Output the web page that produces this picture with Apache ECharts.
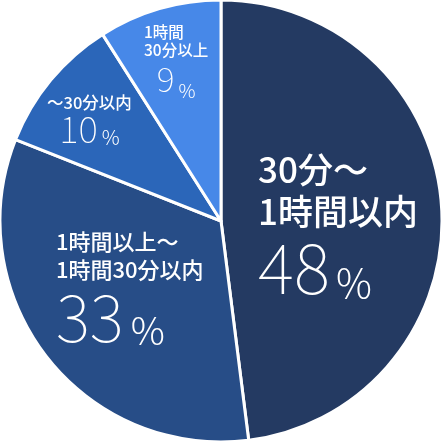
<!DOCTYPE html>
<html>
<head>
<meta charset="utf-8">
<script src="https://cdn.jsdelivr.net/npm/echarts@6/dist/echarts.min.js"></script>
<style>
html,body{margin:0;padding:0;background:#fff;}
#c{width:442px;height:442px;}
</style>
</head>
<body>
<div id="c"></div>
<script>
const categories = ['30分～\n1時間以内', '1時間以上～\n1時間30分以内', '～30分以内', '1時間\n30分以上'];
const values = [48, 33, 10, 9];
const colors = ['#243a62', '#274d87', '#2b66b9', '#4788e8'];

const labelCfg = [
  { x: 258, y: 149, nameAlign: 'left', numAlign: 'left', name: 35, nameLH: 42, num: 69, numLH: 70, pct: 40, pctLH: 50, gap: 6 },
  { x: 56, y: 228, nameAlign: 'left', numAlign: 'left', name: 22, nameLH: 28, num: 65, numLH: 66, pct: 38, pctLH: 46, gap: 7 },
  { x: 47, y: 94, nameAlign: 'left', numAlign: 'center', name: 16.5, nameLH: 17, num: 37, numLH: 36, pct: 20, pctLH: 21, gap: 4 },
  { x: 144, y: 23, nameAlign: 'left', numAlign: 'center', name: 15.5, nameLH: 18, num: 34, numLH: 41, pct: 19, pctLH: 30, gap: 4 }
];

const jp = '"Noto Sans CJK JP", "Noto Sans", sans-serif';

const data = categories.map((name, i) => {
  const c = labelCfg[i];
  const lines = name.split('\n').map(s => '{n|' + s + '}').join('\n');
  return {
    name: name,
    value: values[i],
    itemStyle: { color: colors[i] },
    label: {
      formatter: lines + '\n{v|' + values[i] + '}{p|%}',
      rich: {
        n: { fontFamily: jp, fontWeight: 500, fontSize: c.name, lineHeight: c.nameLH, color: '#fff', align: c.nameAlign },
        v: { fontFamily: jp, fontWeight: 100, fontSize: c.num, lineHeight: c.numLH, color: '#fff', align: c.numAlign },
        p: { fontFamily: jp, fontWeight: 300, fontSize: c.pct, lineHeight: c.pctLH, color: '#fff', align: c.numAlign, verticalAlign: 'bottom', padding: [0, 0, 0, c.gap] }
      }
    }
  };
});

const chart = echarts.init(document.getElementById('c'), null, { renderer: 'canvas' });
chart.setOption({
  backgroundColor: '#ffffff',
  animation: false,
  series: [{
    type: 'pie',
    center: ['50%', '50%'],
    radius: ['0%', 221],
    startAngle: 90,
    clockwise: true,
    avoidLabelOverlap: false,
    itemStyle: { borderColor: '#ffffff', borderWidth: 3 },
    label: { show: true, position: 'inside' },
    labelLine: { show: false },
    emphasis: { disabled: true },
    labelLayout: function (params) {
      const c = labelCfg[params.dataIndex];
      return { x: c.x, y: c.y, align: 'left', verticalAlign: 'top' };
    },
    data: data
  }]
});
</script>
</body>
</html>
